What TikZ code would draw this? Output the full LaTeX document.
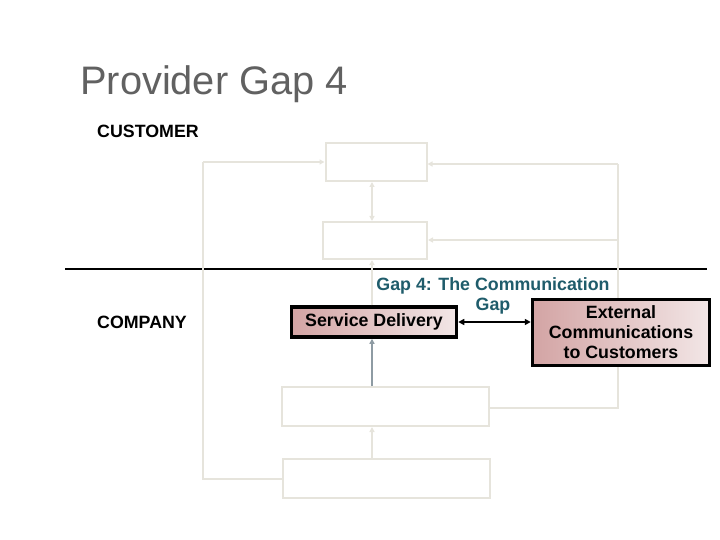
\documentclass[tikz,border=0pt]{standalone}
\usepackage{fontspec}
\setmainfont{Liberation Sans}
\usetikzlibrary{arrows.meta}
\definecolor{lightc}{HTML}{E6E4DC}
\definecolor{titlec}{HTML}{616161}
\definecolor{gapc}{HTML}{1F5C6B}
\definecolor{pinkA}{HTML}{D3A4A4}
\definecolor{pinkB}{HTML}{F2E6E6}
\definecolor{grayarr}{HTML}{8E9BA3}
\tikzset{
  lightbox/.style={draw=lightc, line width=2pt, fill=white, inner sep=0pt},
  lightline/.style={draw=lightc, line width=1.5pt},
  lightarr/.style={lightline, -{Triangle[length=5pt,width=5pt]}},
  lightdbl/.style={lightline, {Triangle[length=5pt,width=5pt]}-{Triangle[length=5pt,width=5pt]}},
  pinkbox/.style={draw=black, line width=3.5pt, left color=pinkA, right color=pinkB, inner sep=0pt, align=center, font=\bfseries\fontsize{17.8}{20}\selectfont},
  sidelabel/.style={font=\bfseries\fontsize{17.8}{20}\selectfont, anchor=west, inner sep=0pt},
}
\begin{document}
\begin{tikzpicture}[x=1pt,y=-1pt]
\useasboundingbox (0,0) rectangle (720,540);
% title and labels
\node[anchor=base west, inner sep=0pt, text=titlec, font=\fontsize{39.8}{44}\selectfont] (title) at (80,95) {Provider Gap 4};
\node[sidelabel] (cust) at (97,131) {CUSTOMER};
\node[sidelabel] (comp) at (97,322) {COMPANY};
% dividing line
\coordinate (divL) at (65,269);
\coordinate (divR) at (707,269);
\draw[line width=2pt] (divL) -- (divR);
% light boxes
\node[lightbox, minimum width=101pt, minimum height=38pt] (b1) at (376,162) {};
\node[lightbox, minimum width=104pt, minimum height=37pt] (b2) at (375,240.5) {};
\node[lightbox, minimum width=207pt, minimum height=39pt] (b3) at (385.5,406.5) {};
\node[lightbox, minimum width=207pt, minimum height=39pt] (b4) at (386.5,478.5) {};
% side rails
\coordinate (lt) at (203,162);
\coordinate (lb) at (203,479);
\coordinate (rt) at (618,164);
\coordinate (rm) at (618,240);
\coordinate (rb) at (618,408);
\draw[lightline] (b4.west |- lb) -- (lb) -- (lt);
\draw[lightarr] (lt) -- (lt -| b1.west);
\draw[lightline] (b3.east |- rb) -- (rb) -- (rt);
\draw[lightarr] (rt) -- (rt -| b1.east);
\draw[lightarr] (rm) -- (rm -| b2.east);
% pink boxes
\node[pinkbox, minimum width=165pt, minimum height=30pt] (sd) at (374,322) {Service Delivery};
\node[pinkbox, minimum width=177pt, minimum height=66pt] (ext) at (621,332.5) {External\\Communications\\to Customers};
% gap label
\node[font=\bfseries\fontsize{17.8}{20}\selectfont, text=gapc, align=center, inner sep=0pt] (gap) at (493,296) {Gap 4: The Communication\\Gap};
% vertical connectors
\draw[lightdbl] (b1.south -| 372,0) -- (b2.north -| 372,0);
\draw[lightarr] (sd.north -| 372,0) -- (b2.south -| 372,0);
\draw[draw=grayarr, line width=1.5pt, -{Triangle[length=5pt,width=5pt]}] (b3.north -| 372,0) -- (sd.south -| 372,0);
\draw[lightarr] (b4.north -| 372,0) -- (b3.south -| 372,0);
% gap arrow
\draw[line width=2pt, {Triangle[length=6pt,width=6pt]}-{Triangle[length=6pt,width=6pt]}] (sd.east) -- (sd.east -| ext.west);
\end{tikzpicture}
\end{document}
